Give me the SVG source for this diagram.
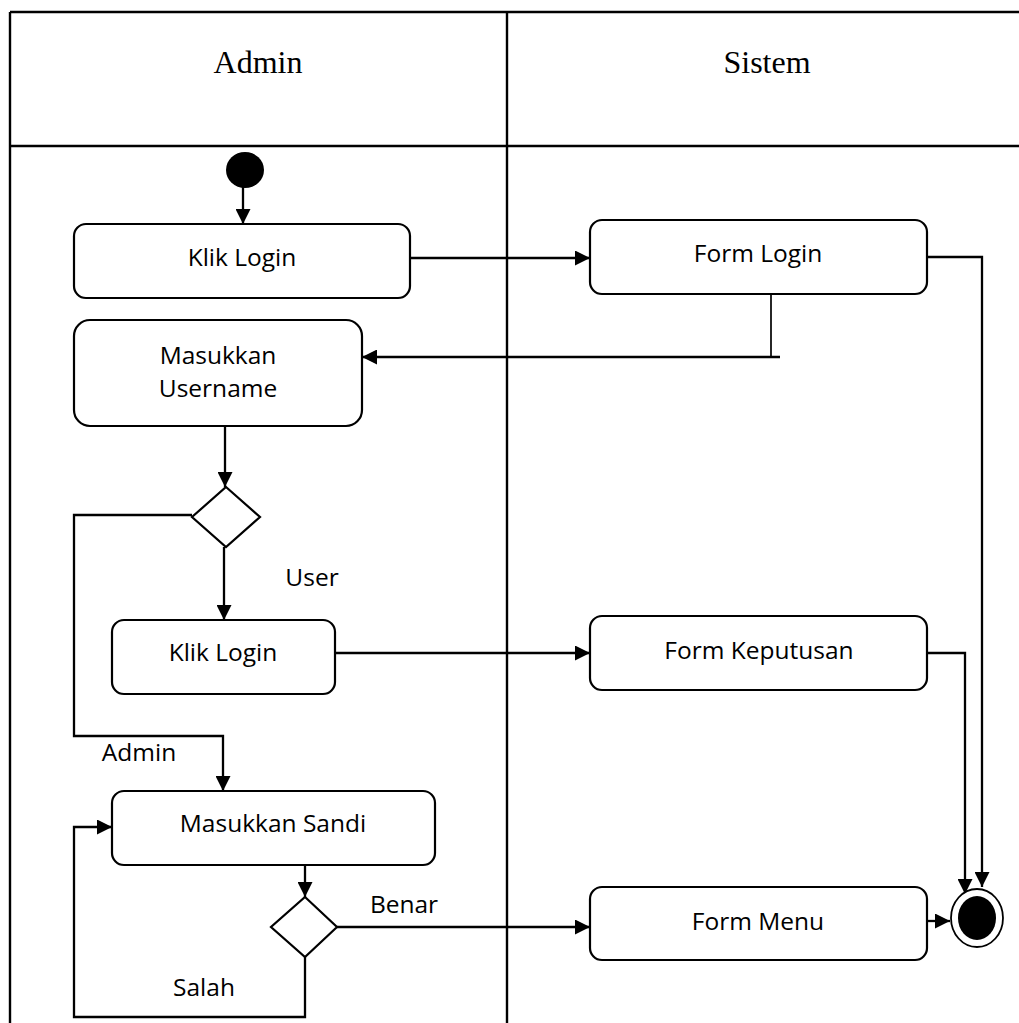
<svg xmlns="http://www.w3.org/2000/svg" width="1019" height="1023" viewBox="0 0 1019 1023">
  <style>
    .lane { stroke: #000; stroke-width: 2.4; fill: none; }
    .title { font-family: "Liberation Serif", "Times New Roman", serif; font-size: 32px; fill: #000; text-anchor: middle; }
    .act { fill: #fff; stroke: #000; stroke-width: 2.2; }
    .lbl { font-family: "Open Sans", "Noto Sans", sans-serif; font-size: 24.5px; fill: #000; text-anchor: middle; }
    .flow { fill: none; stroke: #000; stroke-width: 2.3; }
    .thin { fill: none; stroke: #000; stroke-width: 1.7; }
  </style>
  <defs>
    <marker id="arrow" viewBox="0 0 10 10" refX="10" refY="5" markerUnits="userSpaceOnUse" markerWidth="16" markerHeight="15" orient="auto">
      <path d="M0,0 L10,5 L0,10 z" fill="#000"/>
    </marker>
  </defs>
  <rect width="1019" height="1023" fill="#fff"/>

  <!-- swimlanes -->
  <g id="swimlanes">
    <path class="lane" d="M10,12 H1019 M10,146 H1019 M10,12 V1023 M507,12 V1023"/>
    <text class="title" x="258" y="73">Admin</text>
    <text class="title" x="767" y="73">Sistem</text>
  </g>

  <!-- connectors -->
  <g id="connectors">
    <path class="flow" d="M243,187 V224" marker-end="url(#arrow)"/>
    <path class="flow" d="M410,258 H590" marker-end="url(#arrow)"/>
    <path class="thin" d="M771,294 V357"/>
    <path class="flow" d="M780,357 H362" marker-end="url(#arrow)"/>
    <path class="flow" d="M225,426 V487" marker-end="url(#arrow)"/>
    <path class="flow" d="M224,547 V620" marker-end="url(#arrow)"/>
    <path class="flow" d="M192,515 H74 V736 H223 V791" marker-end="url(#arrow)"/>
    <path class="flow" d="M335,653 H590" marker-end="url(#arrow)"/>
    <path class="flow" d="M305,865 V897" marker-end="url(#arrow)"/>
    <path class="flow" d="M337,927 H590" marker-end="url(#arrow)"/>
    <path class="flow" d="M305,957 V1017 H74 V827 H112" marker-end="url(#arrow)"/>
    <path class="flow" d="M927,257 H982 V887" marker-end="url(#arrow)"/>
    <path class="flow" d="M927,653 H965 V894" marker-end="url(#arrow)"/>
    <path class="flow" d="M927,921 H950" marker-end="url(#arrow)"/>
    <text class="lbl" x="312" y="586">User</text>
    <text class="lbl" x="139" y="761">Admin</text>
    <text class="lbl" x="404" y="913">Benar</text>
    <text class="lbl" x="204" y="996">Salah</text>
  </g>

  <!-- start node -->
  <g id="start">
    <ellipse cx="245" cy="170" rx="19" ry="18" fill="#000"/>
  </g>

  <g id="klik-login-1">
    <rect class="act" x="74" y="224" width="336" height="74" rx="12"/>
    <text class="lbl" x="242" y="266">Klik Login</text>
  </g>

  <g id="masukkan-username">
    <rect class="act" x="74" y="320" width="288" height="106" rx="16"/>
    <text class="lbl" x="218" y="364">Masukkan</text>
    <text class="lbl" x="218" y="397">Username</text>
  </g>

  <g id="decision-user">
    <polygon class="act" points="226,487 260,517 226,547 192,517"/>
  </g>

  <g id="klik-login-2">
    <rect class="act" x="112" y="620" width="223" height="74" rx="12"/>
    <text class="lbl" x="223" y="661">Klik Login</text>
  </g>

  <g id="masukkan-sandi">
    <rect class="act" x="112" y="791" width="323" height="74" rx="12"/>
    <text class="lbl" x="273" y="832">Masukkan Sandi</text>
  </g>

  <g id="decision-sandi">
    <polygon class="act" points="305,897 337,927 305,957 271,927"/>
  </g>

  <g id="form-login">
    <rect class="act" x="590" y="220" width="337" height="74" rx="12"/>
    <text class="lbl" x="758" y="262">Form Login</text>
  </g>

  <g id="form-keputusan">
    <rect class="act" x="590" y="616" width="337" height="74" rx="12"/>
    <text class="lbl" x="759" y="659">Form Keputusan</text>
  </g>

  <g id="form-menu">
    <rect class="act" x="590" y="887" width="337" height="73" rx="12"/>
    <text class="lbl" x="758" y="930">Form Menu</text>
  </g>

  <!-- final node -->
  <g id="end">
    <ellipse cx="977" cy="918" rx="26" ry="29" fill="#fff" stroke="#000" stroke-width="1.8"/>
    <ellipse cx="977" cy="918" rx="19" ry="22" fill="#000"/>
  </g>
</svg>
